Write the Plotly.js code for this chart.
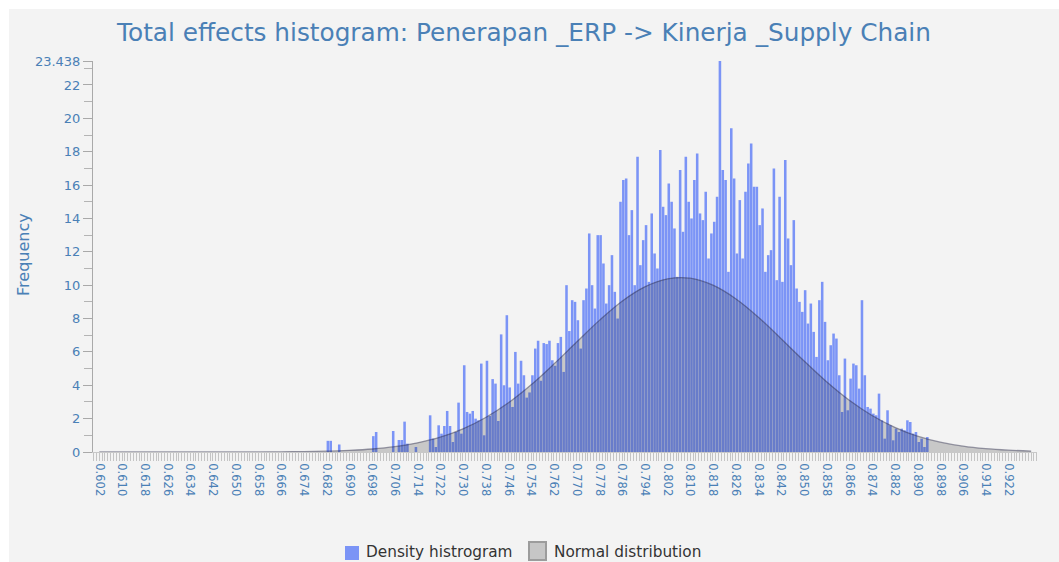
<!DOCTYPE html>
<html>
<head>
<meta charset="utf-8">
<script src="https://cdn.plot.ly/plotly-3.0.1.min.js"></script>
<style>
  html, body { margin: 0; padding: 0; background: #ffffff; width: 1059px; height: 562px; overflow: hidden; }
  #chart { position: absolute; left: 9px; top: 9px; width: 1050px; height: 553px; }
</style>
</head>
<body>
<div id="chart"></div>
<script>
// ---- data ----
const chartTitle = "Total effects histogram: Penerapan _ERP -> Kinerja _Supply Chain";
const yTitle = "Frequency";
const histName = "Density histrogram";
const normalName = "Normal distribution";

// histogram: first bin start and bin width (x values), densities per bin
const binStart = 0.682;
const binWidth = 0.001;
const density = [
  0.67, 0.67, 0, 0, 0.45,
  0, 0, 0, 0, 0, 0, 0, 0, 0, 0, 0,
  0.95, 1.2, 0, 0, 0, 0, 0, 1.26, 0,
  0.72, 0.72, 1.82, 0.5, 0, 0, 0.3,
  0, 0, 0, 0,
  2.2, 0.8, 0.3, 1.6, 1.1, 1.56, 2.46, 1.56, 0.6, 1.2,
  2.96, 1.1, 5.2, 2.4, 2.3, 2.46, 2.0, 1.9, 5.3, 1.0,
  5.47, 2.16, 4.37, 4.1, 1.86, 7.05, 4.0, 8.2, 3.87, 2.7,
  6.0, 4.1, 5.47, 4.6, 3.26, 3.57, 4.6, 6.2, 6.67, 4.27,
  6.53, 6.47, 6.67, 5.5, 5.17, 6.53, 6.9, 4.8, 10.0, 7.25,
  9.1, 9.0, 7.9, 6.2, 9.1, 9.8, 13.1, 10.0, 8.6, 13.0,
  13.0, 11.3, 8.9, 10.0, 11.8, 9.6, 8.0, 15.0, 16.3, 16.4,
  13.0, 14.5, 10.0, 17.7, 11.2, 12.7, 13.6, 10.2, 14.3, 11.9,
  11.0, 18.1, 14.7, 14.2, 16.1, 15.0, 13.4, 10.5, 16.9, 13.2,
  17.7, 15.0, 14.0, 16.3, 17.9, 14.3, 13.9, 15.6, 11.6, 13.1,
  13.8, 15.3, 23.438, 16.9, 16.3, 10.8, 19.4, 16.4, 11.9, 15.1,
  11.6, 15.6, 17.3, 18.5, 15.9, 15.9, 13.6, 14.6, 10.8, 11.8,
  12.1, 17.0, 10.3, 15.3, 10.2, 17.5, 12.8, 11.2, 13.9, 9.8,
  9.0, 8.4, 9.7, 7.7, 8.9, 7.2, 5.7, 9.1, 10.2, 7.8,
  5.5, 6.4, 7.1, 6.8, 4.6, 2.4, 5.6, 2.5, 4.4, 5.3,
  5.2, 3.8, 9.1, 4.6, 2.7, 2.6, 2.3, 2.2, 3.5, 1.9,
  0.8, 2.5, 1.6, 0.7, 1.4, 1.2, 1.4, 1.3, 1.9, 1.8,
  1.1, 1.2, 0.6, 0.8, 0.3, 0.9
];

// normal distribution curve, read at every labelled x tick
const normalStart = 0.602;
const normalStep = 0.008;
const normalDensity = [
  0, 0, 0, 0, 0, 0.001, 0.002, 0.005, 0.012, 0.024,
  0.05, 0.10, 0.18, 0.32, 0.55, 0.89, 1.39, 2.07, 2.95, 4.03,
  5.27, 6.59, 7.89, 9.04, 9.90, 10.38, 10.42, 10.00, 9.19, 8.08,
  6.79, 5.47, 4.21, 3.10, 2.19, 1.48, 0.95, 0.59, 0.35, 0.20,
  0.11, 0.055
];

// axis ticks
const xTickVals = [0.602, 0.610, 0.618, 0.626, 0.634, 0.642, 0.650, 0.658, 0.666, 0.674,
  0.682, 0.690, 0.698, 0.706, 0.714, 0.722, 0.730, 0.738, 0.746, 0.754,
  0.762, 0.770, 0.778, 0.786, 0.794, 0.802, 0.810, 0.818, 0.826, 0.834,
  0.842, 0.850, 0.858, 0.866, 0.874, 0.882, 0.890, 0.898, 0.906, 0.914, 0.922];
const yTickVals = [0, 2, 4, 6, 8, 10, 12, 14, 16, 18, 20, 22, 23.438];
const yTickText = ["0", "2", "4", "6", "8", "10", "12", "14", "16", "18", "20", "22", "23.438"];

// ---- styling ----
const FONT = "DejaVu Sans, Verdana, sans-serif";
const LABEL_BLUE = "#4a80b6";
const BAR_BLUE = "#7b94f6";
const W = 1050, H = 553;
const M = { l: 84, r: 22, t: 52, b: 110 };
const PW = W - M.l - M.r, PH = H - M.t - M.b;
// pixel (inside the chart div) -> paper coordinates, for the legend layout
const px = x => (x - M.l) / PW;
const py = y => (H - M.b - y) / PH;

const traces = [
  {
    type: "bar",
    name: histName,
    x0: binStart,
    dx: binWidth,
    y: density,
    offset: 0,
    width: binWidth * 0.9,
    marker: { color: BAR_BLUE, line: { width: 0 } },
    hoverinfo: "skip"
  },
  {
    type: "scatter",
    mode: "lines",
    name: normalName,
    x0: normalStart,
    dx: normalStep,
    y: normalDensity,
    line: { shape: "spline", smoothing: 1, color: "rgba(40,40,70,0.45)", width: 1.3 },
    fill: "tozeroy",
    fillcolor: "rgba(30,30,30,0.2)",
    hoverinfo: "skip"
  }
];

const layout = {
  width: W,
  height: H,
  paper_bgcolor: "#f3f3f3",
  plot_bgcolor: "#f3f3f3",
  margin: { l: M.l, r: M.r, t: M.t, b: M.b, pad: 0, autoexpand: false },
  barmode: "overlay",
  showlegend: false,
  font: { family: FONT, color: LABEL_BLUE },
  title: {
    text: chartTitle,
    font: { family: FONT, size: 24.75, color: LABEL_BLUE },
    xref: "container", x: 0.4905, xanchor: "center",
    yref: "container", y: 0.958, yanchor: "middle"
  },
  xaxis: {
    range: [0.59978, 0.93206],
    tickmode: "array",
    tickvals: xTickVals,
    ticktext: xTickVals.map(v => v.toFixed(3)),
    tickangle: 90,
    ticks: "outside",
    ticklen: 8,
    tickwidth: 1,
    tickcolor: "#c4c4c4",
    tickfont: { family: FONT, size: 11.5, color: LABEL_BLUE },
    minor: { tick0: 0.602, dtick: 0.001, ticks: "outside", ticklen: 8, tickwidth: 1, tickcolor: "#c4c4c4", showgrid: false },
    showline: true,
    linecolor: "#c8c8c8",
    linewidth: 1,
    showgrid: false,
    zeroline: false,
    automargin: false,
    fixedrange: true
  },
  yaxis: {
    range: [0, 23.438],
    tickmode: "array",
    tickvals: yTickVals,
    ticktext: yTickText,
    ticks: "outside",
    ticklen: 9,
    tickwidth: 1,
    tickcolor: "#a9a9a9",
    tickfont: { family: FONT, size: 13, color: LABEL_BLUE },
    minor: { tick0: 0, dtick: 1, ticks: "outside", ticklen: 8, tickwidth: 1, tickcolor: "#b4b4b4", showgrid: false },
    showline: true,
    linecolor: "#a9a9a9",
    linewidth: 1,
    showgrid: false,
    zeroline: false,
    automargin: false,
    fixedrange: true
  },
  shapes: [
    // legend swatches
    { type: "rect", xref: "paper", yref: "paper", layer: "above",
      x0: px(336), x1: px(350), y0: py(551), y1: py(537),
      fillcolor: BAR_BLUE, line: { width: 0 } },
    { type: "rect", xref: "paper", yref: "paper", layer: "above",
      x0: px(520), x1: px(537), y0: py(551), y1: py(533),
      fillcolor: "#c6c6c6", line: { color: "#9c9c9c", width: 2 } }
  ],
  annotations: [
    {
      text: yTitle,
      xref: "paper", x: 0, xanchor: "center", xshift: -69,
      yref: "paper", y: 0.504, yanchor: "middle",
      textangle: -90,
      showarrow: false,
      font: { family: FONT, size: 16, color: LABEL_BLUE }
    },
    {
      text: histName,
      xref: "paper", x: px(355), xanchor: "left",
      yref: "paper", y: py(543), yanchor: "middle",
      showarrow: false,
      font: { family: FONT, size: 15.3, color: "#333333" }
    },
    {
      text: normalName,
      xref: "paper", x: px(543), xanchor: "left",
      yref: "paper", y: py(543), yanchor: "middle",
      showarrow: false,
      font: { family: FONT, size: 15.3, color: "#333333" }
    }
  ]
};

Plotly.newPlot("chart", traces, layout, { staticPlot: true, displayModeBar: false });
</script>
</body>
</html>
